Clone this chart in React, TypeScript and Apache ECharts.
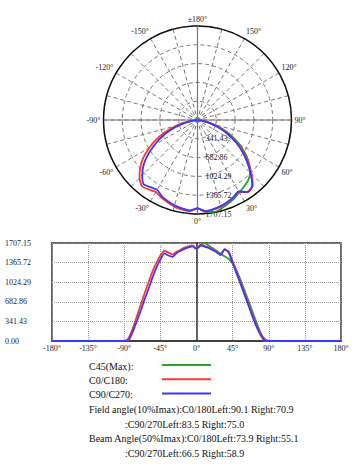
import React, { useEffect, useRef } from "react";
import * as echarts from "echarts";

const angles = [-180, -90, -85, -80, -75, -70, -65, -60, -55, -50, -45, -40, -35, -30, -25, -20, -15, -10, -5, 0, 5, 10, 15, 20, 25, 30, 35, 40, 45, 50, 55, 60, 65, 70, 75, 80, 85, 90, 180];
const c0c180 = [0, 0, 45, 200, 400, 610, 815, 1015, 1205, 1360, 1490, 1570, 1540, 1510, 1555, 1590, 1628, 1650, 1665, 1609, 1672, 1655, 1630, 1595, 1555, 1515, 1590, 1560, 1390, 1205, 1015, 825, 635, 445, 265, 125, 35, 0, 0];
const c90c270 = [0, 0, 5, 140, 320, 505, 710, 897, 1100, 1280, 1420, 1525, 1490, 1465, 1530, 1570, 1605, 1630, 1648, 1603, 1665, 1645, 1620, 1585, 1545, 1495, 1600, 1545, 1360, 1170, 990, 800, 610, 415, 240, 100, 8, 0, 0];
const c45 = [null, null, null, null, null, null, null, null, null, null, null, null, null, null, null, null, null, null, null, 1603, 1660, 1707.15, 1665, 1620, 1574, 1520, 1475, 1432, 1350, 1225, 1060, 875, 690, 500, 315, 140, 0, 0, null];

const valueTicks = [0, 341.43, 682.86, 1024.29, 1365.72, 1707.15];
const angleTicks = [-180, -135, -90, -45, 0, 45, 90, 135, 180];
const legendNames = ["C45(Max):", "C0/C180:", "C90/C270:"];
const infoLines = [
  "Field angle(10%Imax):C0/180Left:90.1 Right:70.9",
  ":C90/270Left:83.5 Right:75.0",
  "Beam Angle(50%Imax):C0/180Left:73.9 Right:55.1",
  ":C90/270Left:66.5 Right:58.9",
];

const GREEN = "#2f9e2f";
const RED = "#ff3434";
const BLUE = "#3a3aff";
const FONT = "Liberation Serif";

export default function App() {
  const ref = useRef<HTMLDivElement>(null);
  useEffect(() => {
    if (!ref.current) return;
    const chart = echarts.init(ref.current, undefined, { renderer: "svg" });
    const vMax = valueTicks[valueTicks.length - 1];
    const vStep = valueTicks[1];
    const toPolar = (vals: (number | null)[]) =>
      angles
        .map((a, i) => (vals[i] == null ? null : [vals[i], a < 0 ? a + 360 : a]))
        .filter((d) => d !== null);
    const toCart = (vals: (number | null)[]) =>
      angles.map((a, i) => [a, vals[i] == null ? "-" : vals[i]]).filter((d) => d[1] !== "-");
    const colors = [GREEN, RED, BLUE];
    const seriesVals = [c45, c0c180, c90c270];

    const graphic: any[] = [];
    legendNames.forEach((n, i) => {
      const y = 366 + i * 14.3;
      graphic.push({
        type: "text",
        style: { text: n, x: 89, y, fill: "#111", fontSize: 10, fontFamily: FONT, verticalAlign: "middle" },
      });
      graphic.push({
        type: "line",
        shape: { x1: 162, y1: y - 1, x2: 211, y2: y - 1 },
        style: { stroke: colors[i], lineWidth: 2 },
      });
    });
    infoLines.forEach((t, i) => {
      graphic.push({
        type: "text",
        style: {
          text: t,
          x: i % 2 === 0 ? 89 : 125,
          y: 409.5 + i * 14.7,
          fill: "#111",
          fontSize: 10,
          fontFamily: FONT,
          verticalAlign: "middle",
        },
      });
    });

    const lbl = { fontSize: 8, color: "#222", fontFamily: FONT };

    chart.setOption({
      animation: false,
      backgroundColor: "#fff",
      textStyle: { fontFamily: FONT },
      polar: { center: [197.5, 120], radius: 94 },
      angleAxis: {
        type: "value",
        min: 0,
        max: 360,
        interval: 15,
        startAngle: 270,
        clockwise: false,
        axisLine: { show: true, lineStyle: { color: "#111", width: 1.5 } },
        axisTick: { show: false },
        axisLabel: {
          ...lbl,
          margin: 3,
          formatter: (v: number) => {
            if (v % 30 !== 0 || v === 360) return "";
            if (v === 180) return "±180°";
            if (v > 180) return "-" + (360 - v) + "°";
            return v + "°";
          },
        },
        splitLine: { show: true, lineStyle: { color: "#777", type: [4, 3], width: 1 } },
      },
      radiusAxis: {
        type: "value",
        min: 0,
        max: vMax,
        interval: vStep,
        axisLine: { show: false },
        axisTick: { show: false },
        axisLabel: {
          ...lbl,
          formatter: (v: number) => (v === 0 ? "" : v.toFixed(2)),
        },
        splitLine: { show: true, lineStyle: { color: "#777", type: [4, 3], width: 1 } },
      },
      grid: {
        left: 52,
        top: 243,
        width: 289,
        height: 98,
        show: true,
        borderColor: "#333",
        borderWidth: 1.5,
      },
      xAxis: {
        type: "value",
        min: angleTicks[0],
        max: angleTicks[angleTicks.length - 1],
        interval: angleTicks[1] - angleTicks[0],
        axisLine: { show: true, lineStyle: { color: "#333", width: 1.5 } },
        axisTick: { show: false },
        axisLabel: { ...lbl, margin: 3, formatter: (v: number) => v + "°" },
        splitLine: { show: true, lineStyle: { color: "#999", type: "dotted" } },
      },
      yAxis: {
        type: "value",
        min: 0,
        max: vMax,
        interval: vStep,
        axisLine: { show: true, lineStyle: { color: "#333", width: 1.5 } },
        axisTick: { show: false },
        axisLabel: {
          ...lbl,
          align: "left",
          margin: 47,
          formatter: (v: number) => v.toFixed(2),
        },
        splitLine: { show: true, lineStyle: { color: "#999", type: "dotted" } },
      },
      graphic,
      series: [
        {
          type: "line",
          coordinateSystem: "polar",
          data: [[vMax, 0], [vMax, 180]],
          symbol: "none",
          silent: true,
          lineStyle: { color: "#777", width: 1.2 },
        },
        {
          type: "line",
          coordinateSystem: "polar",
          data: [[vMax, 90], [vMax, 270]],
          symbol: "none",
          silent: true,
          lineStyle: { color: "#777", width: 1.2 },
        },
        ...seriesVals.map((vals, i) => ({
          type: "line",
          coordinateSystem: "polar",
          data: toPolar(vals),
          symbol: "none",
          smooth: 0.2,
          lineStyle: { color: colors[i], width: 1.8 },
        })),
        ...seriesVals.map((vals, i) => ({
          type: "line",
          data: toCart(vals),
          symbol: "none",
          smooth: 0.2,
          lineStyle: { color: colors[i], width: 1.8 },
        })),
      ],
    });
    return () => chart.dispose();
  }, []);
  return <div ref={ref} style={{ position: "fixed", left: 0, top: 0, width: 358, height: 468 }} />;
}
